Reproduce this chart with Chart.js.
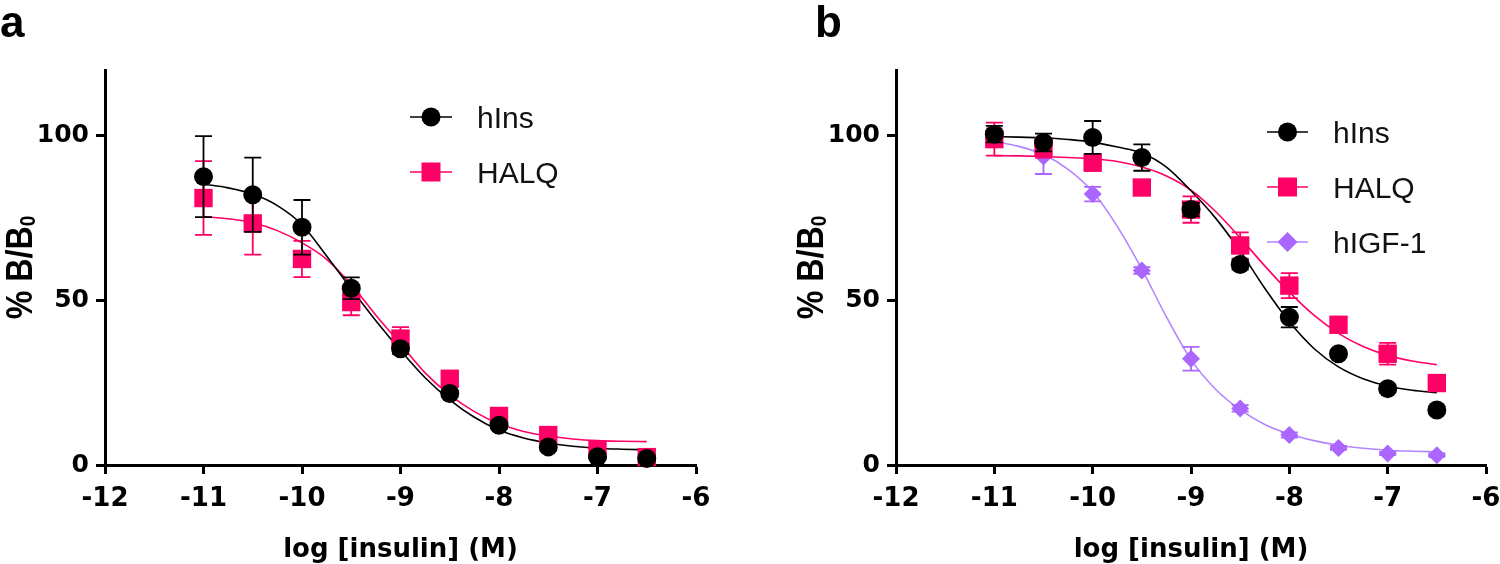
<!DOCTYPE html>
<html>
<head>
<meta charset="utf-8">
<script src="https://cdn.jsdelivr.net/npm/chart.js@4.4.1/dist/chart.umd.min.js"></script>
<style>
  html, body { margin: 0; padding: 0; background: #fff; overflow: hidden; width: 1500px; height: 564px; }
  .panel { position: absolute; top: 0; height: 564px; }
  #wrapA { left: 0; width: 750px; }
  #wrapB { left: 750px; width: 770px; }
</style>
</head>
<body>
<div class="panel" id="wrapA"><canvas id="chartA"></canvas></div>
<div class="panel" id="wrapB"><canvas id="chartB"></canvas></div>
<script>
// doses (log M) of the measured points
const doseX = [-11, -10.5, -10, -9.5, -9, -8.5, -8, -7.5, -7, -6.5];

// panel a - mean and error bars
const aInsMean  = [87.6, 82.1, 72.2, 53.7, 35.3, 21.7, 12.1, 5.5, 2.5, 2.0];
const aInsErr   = [12.3, 11.3, 8.3, 3.3, 1.5, 1.0, 1.0, 0.8, 0.5, 0.5];
const aHalqMean = [81.1, 73.4, 62.6, 49.5, 38.4, 26.2, 14.9, 9.1, 4.5, 2.4];
const aHalqErr  = [11.2, 9.5, 5.5, 4.0, 3.5, 1.5, 1.2, 1.0, 1.0, 0.8];

// panel b - mean and error bars
const bInsMean  = [100.5, 98.0, 99.5, 93.4, 77.6, 60.9, 44.9, 33.8, 23.2, 16.7];
const bInsErr   = [2.5, 2.7, 5.0, 4.0, 2.0, 1.5, 3.1, 1.2, 1.2, 1.0];
const bHalqMean = [99.0, 96.4, 91.9, 84.3, 77.6, 66.7, 54.5, 42.6, 33.8, 24.9];
const bHalqErr  = [5.0, 3.0, 2.5, 2.0, 4.0, 4.0, 3.8, 2.2, 3.3, 1.5];
const bIgfMean  = [100.0, 93.7, 82.3, 59.1, 32.3, 17.2, 9.1, 5.2, 3.5, 3.0];
const bIgfErr   = [2.2, 5.3, 2.2, 1.0, 3.6, 1.0, 0.8, 0.6, 0.5, 0.5];

// fitted curves, every 0.25 log units
const fitX = [-11, -10.75, -10.5, -10.25, -10, -9.75, -9.5, -9.25, -9, -8.75,
              -8.5, -8.25, -8, -7.75, -7.5, -7.25, -7, -6.75, -6.5];
const aInsFit  = [85.3, 84.2, 82.3, 78.8, 73.0, 63.5, 53.5, 43.8, 34.8, 26.5,
                  19.8, 14.5, 10.6, 8.2, 6.7, 5.7, 5.1, 4.8, 4.6];
const aHalqFit = [75.5, 74.8, 73.6, 71.2, 67.5, 62.5, 54.8, 45.5, 36.8, 28.0,
                  21.3, 16.2, 12.5, 10.2, 8.8, 7.9, 7.4, 7.2, 7.1];
const bInsFit  = [99.8, 99.6, 99.4, 98.9, 98.1, 96.6, 94.8, 90.5, 83.3, 75.0,
                  65.0, 53.7, 43.5, 35.4, 29.8, 26.2, 24.0, 22.7, 22.0];
const bHalqFit = [94.0, 93.9, 93.7, 93.4, 93.0, 92.2, 90.5, 87.8, 83.5, 77.0,
                  69.0, 60.5, 52.5, 45.5, 40.0, 36.0, 33.3, 31.6, 30.5];
const bIgfFit  = [98.3, 96.8, 94.3, 89.8, 83.0, 72.5, 59.5, 45.0, 32.0, 23.0,
                  16.8, 12.3, 9.4, 7.4, 6.0, 5.1, 4.5, 4.2, 4.0];

const xTicks = [-12, -11, -10, -9, -8, -7, -6];
const yTicks = [0, 50, 100];

const BLACK = '#000000';
const PINK = '#ff0066';
const PURPLE = '#aa66ff';
const PURPLE_LINE = '#b485ff';

function pts(xs, ys) {
  return xs.map((x, i) => ({ x: x, y: ys[i] }));
}

function pointSet(label, mean, err, color, style, radius) {
  return {
    label: label,
    data: pts(doseX, mean),
    err: err,
    barColor: color,
    showLine: false,
    pointStyle: style,
    pointRadius: radius,
    pointHoverRadius: radius,
    backgroundColor: color,
    borderColor: color,
    pointBorderWidth: 0,
    clip: false
  };
}

function curveSet(fit, color) {
  return {
    data: pts(fitX, fit),
    showLine: true,
    pointRadius: 0,
    borderColor: color,
    borderWidth: 1.6,
    cubicInterpolationMode: 'monotone',
    fill: false
  };
}

// marker for the legend, same shapes as the data points
function marker(ctx, style, x, y, color) {
  ctx.fillStyle = color;
  ctx.beginPath();
  if (style === 'circle') {
    ctx.arc(x, y, 9.5, 0, Math.PI * 2);
  } else if (style === 'rect') {
    ctx.rect(x - 9.5, y - 9.5, 19, 19);
  } else {
    ctx.moveTo(x - 10, y);
    ctx.lineTo(x, y - 10);
    ctx.lineTo(x + 10, y);
    ctx.lineTo(x, y + 10);
    ctx.closePath();
  }
  ctx.fill();
}

function decor(letter, letterX, legend) {
  return {
    id: 'decor',
    // error bars under each series' own markers
    beforeDatasetDraw(chart, args) {
      const ds = chart.data.datasets[args.index];
      if (!ds.err) return;
      const ctx = chart.ctx;
      const ys = chart.scales.y;
      ctx.save();
      ctx.strokeStyle = ds.barColor;
      ctx.lineWidth = 1.8;
      args.meta.data.forEach((p, i) => {
        const top = ys.getPixelForValue(ds.data[i].y + ds.err[i]);
        const bot = ys.getPixelForValue(ds.data[i].y - ds.err[i]);
        ctx.beginPath();
        ctx.moveTo(p.x, top); ctx.lineTo(p.x, bot);
        ctx.moveTo(p.x - 8.5, top); ctx.lineTo(p.x + 8.5, top);
        ctx.moveTo(p.x - 8.5, bot); ctx.lineTo(p.x + 8.5, bot);
        ctx.stroke();
      });
      ctx.restore();
    },
    afterDraw(chart) {
      const ctx = chart.ctx;
      const area = chart.chartArea;
      ctx.save();
      ctx.fillStyle = '#000';

      // panel letter
      ctx.font = 'bold 44px "Liberation Sans"';
      ctx.textAlign = 'left';
      ctx.textBaseline = 'alphabetic';
      ctx.fillText(letter, letterX, 37);

      // x axis title
      ctx.font = 'bold 26px "DejaVu Sans"';
      ctx.textAlign = 'center';
      ctx.fillText('log [insulin] (M)', (area.left + area.right) / 2, 557);

      // y axis title with subscript
      ctx.save();
      ctx.translate(area.left - 73, (area.top + area.bottom) / 2);
      ctx.rotate(-Math.PI / 2);
      ctx.scale(0.87, 1);
      ctx.textAlign = 'left';
      ctx.font = 'bold 37px "Liberation Sans"';
      const w1 = ctx.measureText('% B/B').width;
      ctx.font = 'bold 22px "Liberation Sans"';
      const w2 = ctx.measureText('0').width;
      const x0 = -(w1 + w2) / 2;
      ctx.font = 'bold 37px "Liberation Sans"';
      ctx.fillText('% B/B', x0, 0);
      ctx.font = 'bold 22px "Liberation Sans"';
      ctx.fillText('0', x0 + w1, 3);
      ctx.restore();

      // legend
      legend.items.forEach((it, k) => {
        const y = legend.y0 + k * 55;
        ctx.strokeStyle = it.line;
        ctx.lineWidth = 1.6;
        ctx.beginPath();
        ctx.moveTo(legend.x1, y);
        ctx.lineTo(legend.x2, y);
        ctx.stroke();
        marker(ctx, it.style, (legend.x1 + legend.x2) / 2, y, it.color);
        ctx.fillStyle = '#111';
        ctx.font = '30px "Liberation Sans"';
        ctx.textAlign = 'left';
        ctx.fillText(it.label, legend.tx, y + 10.7);
      });
      ctx.restore();
    }
  };
}

function scalesFor(axisX) {
  return {
    x: {
      type: 'linear',
      min: -12,
      max: -6,
      afterBuildTicks: s => { s.ticks = xTicks.map(v => ({ value: v })); },
      afterFit: s => { s.height = 99; },
      grid: { display: true, drawOnChartArea: false, drawTicks: true, tickLength: 9, tickWidth: 3, tickColor: '#000' },
      border: { display: true, color: '#000', width: 3 },
      ticks: { font: { family: 'DejaVu Sans', weight: 'bold', size: 26 }, color: '#000', padding: 10, maxRotation: 0 }
    },
    y: {
      type: 'linear',
      min: 0,
      max: 120,
      afterBuildTicks: s => { s.ticks = yTicks.map(v => ({ value: v })); },
      afterFit: s => { s.width = axisX; },
      grid: { display: true, drawOnChartArea: false, drawTicks: true, tickLength: 9, tickWidth: 3, tickColor: '#000' },
      border: { display: true, color: '#000', width: 3 },
      ticks: { font: { family: 'DejaVu Sans', weight: 'bold', size: 25 }, color: '#000', padding: 7 }
    }
  };
}

const baseOptions = (axisX, rightPad) => ({
  responsive: true,
  maintainAspectRatio: false,
  animation: false,
  layout: { padding: { top: 70, right: rightPad, left: 0, bottom: 0 } },
  plugins: { legend: { display: false }, tooltip: { enabled: false } },
  scales: scalesFor(axisX)
});

new Chart(document.getElementById('chartA'), {
  type: 'scatter',
  data: {
    datasets: [
      pointSet('hIns', aInsMean, aInsErr, BLACK, 'circle', 9.5),
      pointSet('HALQ', aHalqMean, aHalqErr, PINK, 'rect', 13),
      curveSet(aInsFit, BLACK),
      curveSet(aHalqFit, PINK)
    ]
  },
  options: baseOptions(105, 54),
  plugins: [decor('a', 0, {
    y0: 117, x1: 410, x2: 452, tx: 477,
    items: [
      { label: 'hIns', style: 'circle', color: BLACK, line: BLACK },
      { label: 'HALQ', style: 'rect', color: PINK, line: PINK }
    ]
  })]
});

new Chart(document.getElementById('chartB'), {
  type: 'scatter',
  data: {
    datasets: [
      pointSet('hIns', bInsMean, bInsErr, BLACK, 'circle', 9.5),
      pointSet('HALQ', bHalqMean, bHalqErr, PINK, 'rect', 13),
      pointSet('hIGF-1', bIgfMean, bIgfErr, PURPLE, 'rectRot', 9),
      curveSet(bInsFit, BLACK),
      curveSet(bHalqFit, PINK),
      curveSet(bIgfFit, PURPLE_LINE)
    ]
  },
  options: baseOptions(146, 34),
  plugins: [decor('b', 65, {
    y0: 132, x1: 517, x2: 558, tx: 583,
    items: [
      { label: 'hIns', style: 'circle', color: BLACK, line: BLACK },
      { label: 'HALQ', style: 'rect', color: PINK, line: PINK },
      { label: 'hIGF-1', style: 'diamond', color: PURPLE, line: PURPLE_LINE }
    ]
  })]
});
</script>
</body>
</html>
